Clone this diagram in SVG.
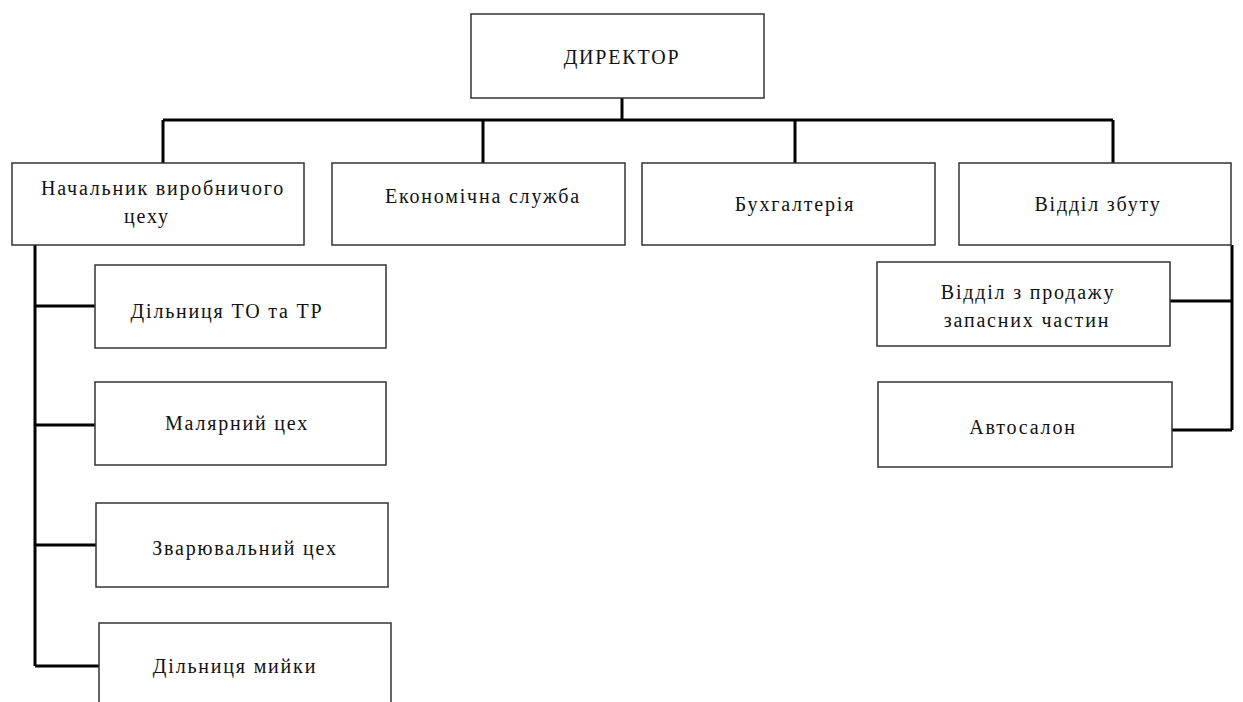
<svg xmlns="http://www.w3.org/2000/svg" width="1243" height="702" viewBox="0 0 1243 702">
<style>
.box{fill:#fff;stroke:#333;stroke-width:1.5}
.t{font-family:"Liberation Serif","Times New Roman",serif;font-size:20px;fill:#111;text-anchor:middle;letter-spacing:1.8px}
.c{fill:none;stroke:#000;stroke-width:3}
</style>
<rect width="1243" height="702" fill="#fff"/>
<g id="connectors">
<path class="c" d="M622,98 V120 M163,120 H1113 M163,120 V163 M483,120 V163 M795,120 V163 M1113,120 V163"/>
<path class="c" d="M35,245 V666 M35,306 H95 M35,425 H95 M35,545 H96 M35,666 H99"/>
<path class="c" d="M1232,245 V430 M1170,301 H1232 M1172,430 H1232"/>
</g>
<g id="director"><rect class="box" x="471" y="14" width="293" height="84"/><text class="t" x="622" y="64">ДИРЕКТОР</text></g>
<g id="head"><rect class="box" x="12" y="163" width="292" height="82"/><text class="t" x="163" y="195">Начальник виробничого</text><text class="t" x="147" y="223">цеху</text></g>
<g id="econ"><rect class="box" x="332" y="163" width="293" height="82"/><text class="t" x="483" y="203">Економічна служба</text></g>
<g id="buh"><rect class="box" x="642" y="163" width="293" height="82"/><text class="t" x="795" y="211">Бухгалтерія</text></g>
<g id="sales"><rect class="box" x="959" y="163" width="272" height="82"/><text class="t" x="1098" y="211">Відділ збуту</text></g>
<g id="to"><rect class="box" x="95" y="265" width="291" height="83"/><text class="t" x="227" y="318">Дільниця ТО та ТР</text></g>
<g id="paint"><rect class="box" x="95" y="382" width="291" height="83"/><text class="t" x="237" y="430">Малярний цех</text></g>
<g id="weld"><rect class="box" x="96" y="503" width="292" height="84"/><text class="t" x="245" y="555">Зварювальний цех</text></g>
<g id="wash"><rect class="box" x="99" y="623" width="292" height="90"/><text class="t" x="235" y="673">Дільниця мийки</text></g>
<g id="parts"><rect class="box" x="877" y="262" width="293" height="84"/><text class="t" x="1028" y="299">Відділ з продажу</text><text class="t" x="1027" y="327">запасних частин</text></g>
<g id="autosalon"><rect class="box" x="878" y="382" width="294" height="85"/><text class="t" x="1023" y="434">Автосалон</text></g>
</svg>
